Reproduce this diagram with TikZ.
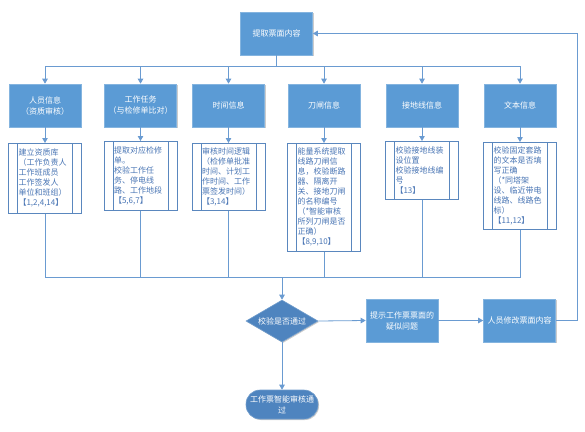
\documentclass[tikz,border=0pt]{standalone}
\usepackage{fontspec}
\setmainfont{Noto Sans CJK SC}
\usetikzlibrary{arrows.meta,shapes.geometric,shadows}
\definecolor{hdr}{HTML}{5B9BD5}
\definecolor{dk}{HTML}{4E84BF}
\definecolor{ln}{HTML}{6A9BD1}
\definecolor{sbd}{HTML}{5A87BE}
\definecolor{stx}{HTML}{4A76B5}
\begin{document}
\begin{tikzpicture}[x=1pt,y=-1pt,
  shd/.style={drop shadow={shadow xshift=1pt,shadow yshift=-1pt,opacity=0.2,fill=black}},
  hbox/.style={rectangle, fill=hdr, draw=hdr!75!white, line width=0.6pt,
    minimum width=72pt, minimum height=43pt, text=white,
    font=\fontsize{8}{11}\selectfont, align=center, inner sep=2pt, shd},
  dbox/.style={hbox, fill=dk, draw=dk!80!white},
  sub/.style={rectangle, draw=sbd, fill=white, line width=0.6pt,
    text width=53pt, align=left, text=stx, font=\fontsize{8}{10}\selectfont,
    inner xsep=10pt, inner ysep=3pt, anchor=north,
    path picture={\draw[sbd, line width=0.6pt]
      ([xshift=9pt]path picture bounding box.north west) -- ([xshift=9pt]path picture bounding box.south west)
      ([xshift=-9pt]path picture bounding box.north east) -- ([xshift=-9pt]path picture bounding box.south east);}},
  conn/.style={draw=ln, line width=0.8pt},
  arr/.style={conn, -{Triangle[width=5.5pt,length=5pt]}}
]
\useasboundingbox (0,0) rectangle (585,431);

% top
\node[hbox] (top) at (276.5,33.5) {提取票面内容};

% headers
\node[hbox] (h1) at (45,105.5) {人员信息\\（资质审核）};
\node[hbox] (h2) at (140.5,105.5) {工作任务\\（与检修单比对）};
\node[hbox] (h3) at (228.5,105.5) {时间信息};
\node[hbox] (h4) at (324,105.5) {刀闸信息};
\node[hbox] (h5) at (422,105.5) {接地线信息};
\node[hbox] (h6) at (520,105.5) {文本信息};

% sub-processes
\node[sub, minimum height=70pt] (s1) at (45,143) {建立资质库\\（工作负责人\\工作班成员\\工作签发人\\单位和班组）\\【1,2,4,14】};
\node[sub, minimum height=69pt] (s2) at (140.5,141) {提取对应检修\\单。\\校验工作任\\务、停电线\\路、工作地段\\【5,6,7】};
\node[sub, minimum height=67pt] (s3) at (228.5,143) {审核时间逻辑\\（检修单批准\\时间、计划工\\作时间、工作\\票签发时间）\\【3,14】};
\node[sub, minimum height=108pt] (s4) at (324,143) {能量系统提取\\线路刀闸信\\息，校验断路\\器、隔离开\\关、接地刀闸\\的名称编号\\（*智能审核\\所列刀闸是否\\正确）\\【8,9,10】};
\node[sub, minimum height=58pt] (s5) at (422,141) {校验接地线装\\设位置\\校验接地线编\\号\\【13】};
\node[sub, minimum height=87pt] (s6) at (520,142) {校验固定套路\\的文本是否填\\写正确\\（*同塔架\\设、临近带电\\线路、线路色\\标）\\【11,12】};

% decision and following
\node[diamond, fill=dk, draw=dk!80!white, line width=0.6pt, minimum width=72pt, minimum height=42pt,
  inner sep=0pt, aspect=1.7, text=white, font=\fontsize{8}{10}\selectfont, shd] (dia) at (282,321) {校验是否通过};
\node[hbox] (p1) at (402,320.5) {提示工作票票面的\\疑似问题};
\node[hbox] (p2) at (519.5,320.5) {人员修改票面内容};
\node[dbox, rounded corners=14pt, minimum height=29pt, inner sep=1pt] (term) at (282,404.5) {工作票智能审核通\\过};

% connectors top -> headers
\foreach \h in {h1,h2,h3,h4,h5,h6}
  \draw[arr] (top.south) -- ++(0,11) -| (\h.north);
% headers -> subs
\foreach \i in {1,...,6}
  \draw[arr] (h\i.south) -- (s\i.north);
% subs -> bottom bus
\coordinate (bj) at (282,277);
\foreach \s in {s1,s2,s3,s4,s5,s6}
  \draw[conn] (\s.south) |- (bj);
\draw[arr] (bj) -- (dia.north);
\draw[arr] (dia.east) -- (p1.west);
\draw[arr] (p1.east) -- (p2.west);
\draw[arr] (p2.east) -- ++(22,0) |- (top.east);
\draw[arr] (dia.south) -- (term.north);
\end{tikzpicture}
\end{document}
